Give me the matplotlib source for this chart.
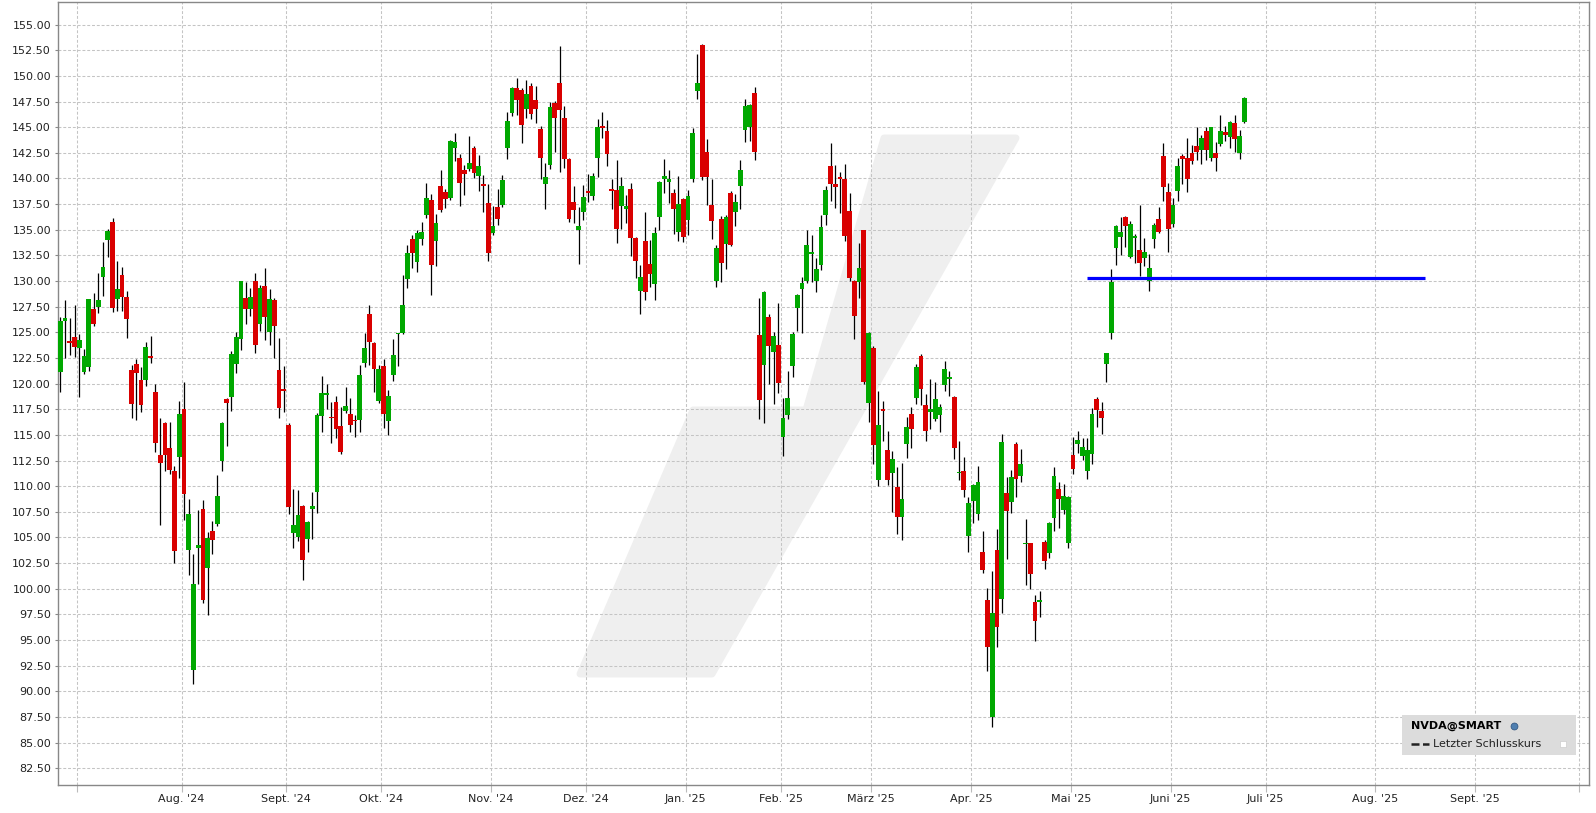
import matplotlib.pyplot as plt
from matplotlib.patches import Polygon, Rectangle
from matplotlib.lines import Line2D
import numpy as np
import pandas as pd

# NVDA daily candles, 25.06.2024 - 24.06.2025
holidays = ['2024-07-04', '2024-09-02', '2024-11-28', '2024-12-25', '2025-01-01',
            '2025-01-09', '2025-01-20', '2025-02-17', '2025-04-18', '2025-05-26', '2025-06-19']

opens = [
    121.15, 126.12, 124.10, 124.53, 123.49, 121.15, 121.64, 127.26, 127.46, 130.41,
    134.02, 135.74, 128.27, 130.57, 128.43, 121.32, 121.90, 120.34, 120.37, 122.68,
    119.17, 113.03, 116.15, 113.71, 111.47, 112.84, 117.51, 103.80, 92.11, 103.93,
    107.77, 102.05, 105.62, 106.31, 112.48, 118.49, 118.71, 121.93, 124.30, 128.30,
    127.29, 129.99, 125.83, 129.50, 125.05, 128.14, 121.32, 119.46, 115.95, 105.46,
    105.00, 108.06, 104.88, 107.80, 109.46, 116.86, 118.91, 116.76, 118.20, 115.86,
    117.32, 117.03, 116.50, 116.44, 122.03, 126.77, 123.95, 118.33, 121.71, 116.38,
    120.86, 124.79, 124.95, 130.22, 134.05, 131.87, 134.05, 136.45, 137.89, 133.92,
    139.31, 138.66, 138.14, 142.99, 141.98, 140.81, 140.94, 142.95, 140.26, 139.41,
    137.56, 134.70, 137.20, 137.43, 142.99, 146.40, 148.80, 148.61, 146.79, 148.99,
    147.63, 144.80, 139.48, 141.33, 147.34, 149.29, 145.88, 141.88, 137.69, 134.99,
    136.75, 138.73, 138.31, 142.01, 145.06, 144.58, 138.92, 138.92, 137.33, 137.04,
    138.96, 134.18, 129.05, 133.89, 131.65, 129.70, 136.23, 139.96, 139.67, 138.57,
    134.80, 137.98, 135.94, 139.96, 148.54, 152.99, 142.56, 137.40, 130.02, 136.03,
    133.63, 138.57, 136.75, 139.28, 144.74, 145.00, 148.31, 124.73, 121.84, 126.48,
    123.10, 123.75, 114.82, 116.96, 121.74, 127.39, 129.24, 130.02, 132.59, 129.99,
    131.58, 136.46, 141.20, 139.45, 140.13, 139.93, 136.81, 129.99, 129.93, 134.96,
    118.07, 123.46, 110.63, 117.52, 113.52, 111.31, 109.91, 107.02, 114.14, 117.03,
    118.62, 122.68, 117.91, 117.26, 116.57, 116.93, 119.89, 120.47, 118.72, 111.24,
    111.47, 105.17, 108.55, 107.32, 103.58, 98.90, 87.53, 103.77, 98.96, 109.33,
    108.48, 114.10, 111.02, 104.32, 104.45, 98.70, 98.74, 104.58, 103.51, 106.92,
    109.72, 107.70, 104.49, 113.00, 114.14, 112.97, 111.50, 113.10, 118.46, 117.32,
    121.93, 124.95, 133.24, 134.31, 136.23, 132.36, 134.21, 133.01, 132.27, 130.02,
    134.08, 136.03, 142.17, 138.67, 135.55, 138.76, 142.17, 142.04, 142.47, 143.15,
    142.73, 144.61, 142.01, 142.47, 143.37, 144.51, 144.06, 145.39, 142.47, 145.49,
]
highs = [
    126.45, 128.14, 126.35, 127.62, 124.82, 123.36, 128.28, 128.82, 130.77, 133.79,
    135.06, 136.13, 131.94, 131.35, 129.05, 121.80, 122.36, 121.64, 124.04, 124.63,
    119.98, 116.64, 116.25, 116.25, 111.99, 118.29, 120.15, 108.74, 103.38, 107.67,
    108.65, 105.53, 106.60, 111.08, 116.25, 118.59, 123.17, 125.02, 130.05, 129.89,
    129.31, 130.77, 129.60, 131.26, 129.21, 128.33, 124.43, 121.70, 116.12, 109.71,
    109.62, 108.16, 106.60, 109.39, 117.12, 120.73, 119.95, 118.20, 118.78, 117.71,
    119.66, 118.59, 116.93, 121.80, 124.89, 127.65, 124.04, 121.80, 122.36, 119.37,
    124.34, 124.95, 130.57, 133.50, 134.44, 134.93, 135.71, 139.51, 138.53, 136.58,
    140.81, 138.96, 143.71, 144.42, 142.37, 141.33, 144.12, 143.15, 142.27, 140.29,
    139.41, 137.33, 138.96, 140.32, 146.46, 148.93, 149.78, 148.80, 149.58, 149.29,
    148.99, 145.16, 141.46, 147.50, 147.53, 152.89, 147.11, 142.01, 139.25, 137.23,
    139.35, 140.42, 140.52, 145.78, 146.46, 145.68, 139.93, 141.78, 140.13, 138.37,
    139.54, 134.25, 131.55, 136.71, 133.99, 135.25, 139.71, 141.88, 140.81, 138.96,
    140.22, 138.05, 138.86, 144.87, 152.12, 153.09, 143.89, 139.93, 133.50, 136.33,
    136.42, 138.73, 138.47, 141.78, 147.73, 147.24, 148.90, 128.33, 128.98, 126.81,
    125.02, 127.81, 118.59, 121.22, 124.99, 128.69, 130.38, 134.96, 134.44, 132.23,
    136.42, 139.25, 143.44, 141.30, 140.61, 141.39, 138.57, 130.10, 133.69, 135.00,
    125.02, 123.66, 119.27, 118.30, 115.37, 113.39, 111.86, 112.28, 116.74, 117.71,
    121.90, 122.87, 118.98, 120.44, 120.15, 118.00, 122.23, 121.25, 118.81, 114.40,
    112.84, 108.90, 110.20, 111.96, 105.62, 100.07, 101.73, 105.82, 115.08, 110.92,
    111.57, 114.30, 113.62, 106.79, 104.50, 99.39, 99.77, 104.71, 106.50, 111.89,
    110.37, 110.20, 109.00, 114.82, 115.37, 114.69, 114.69, 117.58, 118.68, 118.23,
    123.00, 131.16, 135.45, 136.23, 136.33, 135.84, 134.57, 137.40, 134.18, 132.62,
    135.67, 137.20, 143.44, 139.51, 138.08, 141.95, 142.37, 143.93, 143.25, 145.00,
    144.22, 145.00, 145.05, 143.54, 146.17, 145.16, 145.58, 146.17, 144.71, 147.92,
]
lows = [
    119.20, 122.52, 122.78, 122.61, 118.72, 120.96, 121.25, 125.60, 126.90, 128.56,
    132.33, 126.97, 127.10, 127.10, 124.47, 116.67, 116.47, 117.25, 119.76, 121.96,
    113.29, 106.24, 111.47, 111.21, 102.47, 110.82, 106.70, 101.33, 90.74, 100.46,
    98.64, 97.47, 103.35, 106.11, 111.50, 113.94, 117.35, 121.05, 123.30, 125.83,
    126.61, 123.00, 125.15, 124.27, 123.78, 122.52, 116.67, 117.19, 107.25, 104.00,
    104.68, 100.88, 103.61, 104.88, 107.35, 115.30, 117.51, 114.23, 114.72, 113.16,
    117.16, 115.30, 114.82, 115.30, 121.58, 121.80, 119.20, 118.07, 115.69, 115.01,
    120.28, 121.74, 124.82, 129.34, 131.29, 130.90, 133.56, 136.13, 128.66, 131.48,
    136.75, 137.14, 137.92, 141.72, 137.33, 138.40, 140.74, 140.00, 138.80, 136.75,
    131.97, 134.51, 135.48, 137.20, 141.91, 146.10, 146.23, 143.47, 145.91, 145.81,
    145.42, 139.96, 137.04, 140.94, 142.60, 140.65, 141.04, 135.71, 135.61, 131.65,
    135.97, 137.72, 137.92, 140.16, 143.93, 141.23, 137.00, 133.73, 135.06, 135.68,
    132.46, 130.32, 126.81, 128.17, 129.44, 128.17, 134.96, 138.60, 137.62, 134.60,
    133.92, 133.76, 134.50, 139.67, 147.73, 139.87, 137.43, 134.12, 129.44, 129.93,
    131.19, 133.43, 135.38, 137.04, 143.57, 143.67, 141.81, 116.57, 116.18, 119.98,
    118.04, 119.11, 112.97, 116.57, 120.67, 125.12, 124.95, 129.83, 129.93, 128.92,
    131.06, 135.45, 137.79, 137.14, 136.65, 133.92, 129.99, 124.37, 128.37, 119.99,
    116.25, 112.19, 110.04, 114.43, 110.14, 107.51, 105.36, 104.71, 112.77, 113.75,
    118.04, 117.94, 114.43, 115.60, 116.38, 115.31, 119.30, 118.81, 112.68, 110.60,
    108.97, 103.61, 106.44, 106.70, 101.56, 92.01, 86.55, 94.35, 97.66, 102.93,
    107.41, 108.97, 110.43, 100.36, 100.00, 94.93, 97.21, 101.95, 103.02, 105.62,
    105.91, 107.32, 104.00, 111.18, 113.23, 112.54, 110.69, 112.19, 115.79, 115.11,
    120.18, 124.37, 131.55, 132.56, 133.34, 132.23, 131.78, 130.51, 131.49, 129.05,
    133.24, 134.70, 137.79, 132.82, 135.25, 137.82, 139.48, 138.70, 141.39, 141.78,
    141.39, 141.78, 141.69, 140.71, 143.15, 143.63, 142.95, 142.56, 141.88, 145.39,
]
closes = [
    126.09, 126.38, 123.98, 123.59, 124.24, 122.68, 128.24, 125.83, 128.14, 131.35,
    134.86, 127.39, 129.21, 128.46, 126.32, 118.03, 121.06, 117.94, 123.56, 122.52,
    114.23, 112.28, 113.06, 111.60, 103.70, 117.03, 109.23, 107.28, 100.46, 104.26,
    98.93, 104.94, 104.78, 109.03, 116.15, 118.10, 122.88, 124.50, 129.99, 127.29,
    128.43, 123.78, 129.31, 126.51, 128.20, 125.64, 117.64, 119.30, 107.99, 106.18,
    107.15, 102.83, 106.47, 108.06, 116.93, 119.04, 119.04, 116.60, 115.60, 113.35,
    117.81, 115.99, 116.31, 120.83, 123.46, 124.08, 121.45, 121.41, 117.06, 118.78,
    122.78, 124.92, 127.65, 132.78, 132.69, 134.70, 134.77, 138.08, 131.58, 135.64,
    136.94, 138.01, 143.64, 143.54, 139.54, 140.42, 141.49, 140.55, 141.20, 139.28,
    132.75, 135.35, 136.06, 139.83, 145.58, 148.80, 147.66, 145.23, 148.22, 146.30,
    146.79, 142.01, 140.13, 146.95, 145.91, 146.69, 141.91, 136.07, 136.94, 135.35,
    138.18, 138.60, 140.22, 145.06, 144.93, 142.40, 138.79, 135.06, 139.25, 137.30,
    134.21, 131.97, 130.38, 128.95, 130.70, 134.67, 139.64, 140.22, 139.96, 137.04,
    137.50, 134.28, 138.28, 144.41, 149.35, 140.16, 140.16, 135.87, 133.21, 131.78,
    136.23, 133.53, 137.69, 140.81, 147.05, 147.14, 142.56, 118.42, 128.92, 123.69,
    124.63, 120.05, 116.64, 118.59, 124.82, 128.63, 129.80, 133.50, 132.82, 131.13,
    135.25, 138.86, 139.41, 139.19, 139.97, 134.41, 130.32, 126.61, 131.29, 120.18,
    124.92, 114.04, 115.96, 117.35, 110.63, 112.61, 107.02, 108.74, 115.76, 115.60,
    121.61, 119.50, 115.41, 117.48, 118.49, 117.74, 121.41, 120.67, 113.75, 111.37,
    109.65, 108.35, 110.11, 110.40, 101.86, 94.35, 97.60, 96.30, 114.30, 107.61,
    110.89, 110.72, 112.12, 104.45, 101.46, 96.88, 98.90, 102.73, 106.44, 111.02,
    108.77, 109.07, 108.94, 111.63, 114.49, 113.78, 113.52, 117.03, 117.38, 116.67,
    122.94, 129.92, 135.35, 134.77, 135.38, 135.55, 134.38, 131.78, 132.82, 131.26,
    135.45, 134.77, 139.15, 135.06, 137.40, 141.20, 141.91, 139.93, 141.72, 142.60,
    143.93, 142.76, 145.00, 142.01, 144.61, 144.19, 145.49, 143.83, 144.12, 147.83,
]

month_labels = ["", "Aug. '24", "Sept. '24", "Okt. '24", "Nov. '24", "Dez. '24",
                "Jan. '25", "Feb. '25", "März '25", "Apr. '25", "Mai '25", "Juni '25",
                "Juli '25", "Aug. '25", "Sept. '25", ""]

level_price = 130.3
level_start = '2025-05-06'
level_end = '2025-08-15'

legend_title = 'NVDA@SMART'
legend_entry = 'Letzter Schlusskurs'

# trading days on the axis, then plain weekdays for the empty future part
trade_days = pd.bdate_range('2024-06-25', '2025-06-24', freq='C', holidays=holidays)
future_days = pd.bdate_range('2025-06-25', '2025-10-31')
all_days = trade_days.append(future_days)
assert len(trade_days) == len(closes)

o = np.array(opens); h = np.array(highs); l = np.array(lows); c = np.array(closes)
x = np.arange(len(c))
up = c >= o

W, H = 1596, 813
fig = plt.figure(figsize=(W / 100, H / 100), dpi=100)
ax = fig.add_axes([58 / W, 28 / H, 1531 / W, 783 / H])

# light logo in the background
logo = [(884, 138), (1016, 138), (712, 674), (580, 674), (693, 410), (806, 410)]
ax.add_patch(Polygon([(px / W, 1 - py / H) for px, py in logo], closed=True,
                     transform=fig.transFigure, facecolor='#efefef', edgecolor='#efefef',
                     linewidth=5, joinstyle='round', zorder=0))

green, red = '#00a800', '#d90000'
ax.vlines(x, l, h, color='black', linewidth=0.9, zorder=2)
body_lo = np.minimum(o, c)
body_h = np.maximum(np.abs(c - o), 0.18)
ax.bar(x, body_h, bottom=body_lo, width=1.0, color=np.where(up, green, red),
       linewidth=0, zorder=3)

# horizontal line
pos = {d: i for i, d in enumerate(all_days)}
ax.hlines(level_price, pos[pd.Timestamp(level_start)], pos[pd.Timestamp(level_end)],
          color='#0000ff', linewidth=2.3, zorder=5)

# month grid
months = all_days.to_period('M')
starts = [i - 0.5 for i in range(1, len(all_days)) if months[i] != months[i - 1]]
ax.set_xticks(starts)
ax.set_xticklabels(month_labels)
ax.set_xlim(-0.48, 321.5)

ax.set_ylim(80.87, 157.2)
yt = np.arange(82.5, 155.01, 2.5)
ax.set_yticks(yt)
ax.set_yticklabels([f'{v:.2f}' for v in yt])

ax.grid(True, color='#c4c4c4', linestyle=(0, (2.8, 1.8)), linewidth=0.75, zorder=1)
ax.set_axisbelow(True)
for s in ax.spines.values():
    s.set_color('#888888')
    s.set_linewidth(1.0)
ax.tick_params(axis='x', length=5, color='#bbbbbb', pad=1.5, labelsize=8, labelcolor='#222222')
ax.tick_params(axis='y', length=2.5, color='#888888', pad=2.5, labelsize=8, labelcolor='#222222')

# legend box
fig.add_artist(Rectangle((1402 / W, 1 - 755 / H), 174 / W, 40 / H, transform=fig.transFigure,
                         facecolor='#dcdcdc', edgecolor='none', zorder=10))
fig.text(1411 / W, 1 - 726 / H, legend_title, fontsize=8, fontweight='bold',
         va='center', ha='left', zorder=11)
fig.add_artist(Line2D([1514 / W], [1 - 726 / H], transform=fig.transFigure, marker='o',
                      markersize=5, markerfacecolor='#4f7fb0', markeredgecolor='#2a4f7a',
                      markeredgewidth=0.5, linestyle='none', zorder=11))
fig.add_artist(Line2D([1411 / W, 1429 / W], [1 - 744 / H, 1 - 744 / H], transform=fig.transFigure,
                      color='#222222', linewidth=1.8, linestyle=(0, (3.2, 1.4)), zorder=11))
fig.text(1433 / W, 1 - 744 / H, legend_entry, fontsize=8, va='center', ha='left',
         color='#222222', zorder=11)
fig.add_artist(Line2D([1563 / W], [1 - 744 / H], transform=fig.transFigure, marker='s',
                      markersize=4.5, markerfacecolor='white', markeredgecolor='#cccccc',
                      markeredgewidth=0.5, linestyle='none', zorder=11))

fig.savefig('out.png', dpi=100)
